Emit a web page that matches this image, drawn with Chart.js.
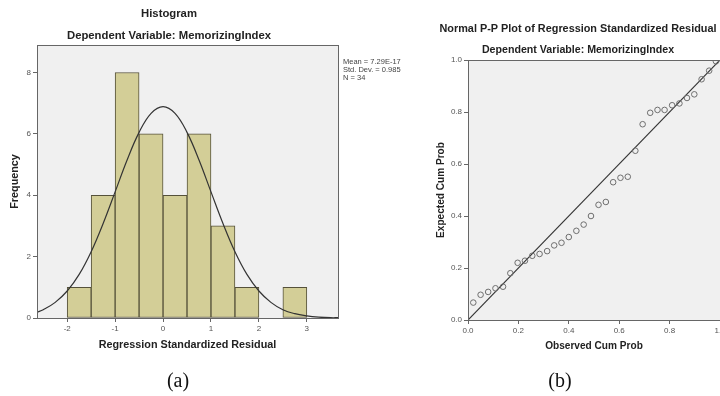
<!DOCTYPE html>
<html>
<head>
<meta charset="utf-8">
<script src="https://cdn.jsdelivr.net/npm/chart.js@4.4.1/dist/chart.umd.min.js"></script>
<style>
  html, body { margin: 0; padding: 0; width: 720px; height: 396px; overflow: hidden; background: #fff; }
  .box { position: absolute; top: 0; }
  .cap { position: absolute; width: 60px; text-align: center; font-family: "Liberation Serif", "Times New Roman", serif; font-size: 20px; line-height: 20px; color: #111; }
  .stats { position: absolute; left: 343px; top: 58px; font-family: "Liberation Sans", Arial, sans-serif; font-size: 7.5px; line-height: 8px; color: #444; white-space: nowrap; }
</style>
</head>
<body>
<div class="box" style="left:0px"><canvas id="histChart" width="450" height="396"></canvas></div>
<div class="box" style="left:433px"><canvas id="ppChart" width="292" height="396"></canvas></div>
<div class="stats">Mean = 7.29E-17<br>Std. Dev. = 0.985<br>N = 34</div>
<div class="cap" style="left:148px; top:370px">(a)</div>
<div class="cap" style="left:530px; top:370px">(b)</div>

<script>
// histogram (a)
const binCenters = [-1.75, -1.25, -0.75, -0.25, 0.25, 0.75, 1.25, 1.75, 2.25, 2.75];
const frequencies = [1, 4, 8, 6, 4, 6, 3, 1, 0, 1];
const curveX = [-2.63, -2.5, -2.25, -2, -1.75, -1.5, -1.25, -1, -0.75, -0.5, -0.25, 0, 0.25, 0.5, 0.75, 1, 1.25, 1.5, 1.75, 2, 2.25, 2.5, 2.75, 3, 3.25, 3.5, 3.65];
const curveY = [0.19, 0.27, 0.51, 0.88, 1.42, 2.16, 3.08, 4.11, 5.15, 6.05, 6.67, 6.89, 6.67, 6.05, 5.15, 4.11, 3.08, 2.16, 1.42, 0.88, 0.51, 0.27, 0.14, 0.07, 0.03, 0.01, 0.01];
const histXTicks = [-2, -1, 0, 1, 2, 3];
const histYTicks = [0, 2, 4, 6, 8];

// P-P plot (b)
const observedCumProb = [0.021, 0.05, 0.08, 0.109, 0.139, 0.168, 0.197, 0.226, 0.255, 0.284, 0.314, 0.342, 0.371, 0.4, 0.43, 0.459, 0.488, 0.518, 0.547, 0.576, 0.605, 0.634, 0.664, 0.693, 0.723, 0.752, 0.78, 0.81, 0.839, 0.869, 0.898, 0.927, 0.957, 0.984];
const expectedCumProb = [0.067, 0.097, 0.108, 0.122, 0.128, 0.18, 0.22, 0.228, 0.247, 0.254, 0.265, 0.287, 0.297, 0.319, 0.343, 0.367, 0.4, 0.443, 0.454, 0.53, 0.547, 0.551, 0.651, 0.753, 0.797, 0.808, 0.808, 0.826, 0.833, 0.854, 0.868, 0.926, 0.959, 0.995];
const refLineX = [0, 1];
const refLineY = [0, 1];
const ppTicks = [0, 0.2, 0.4, 0.6, 0.8, 1.0];

const SANS = '"Liberation Sans", Arial, sans-serif';
const tickFont = { family: SANS, size: 8 };
const tickColor = '#555';
const frameColor = '#666';

// grey plot background + frame like SPSS
const plotFrame = {
    id: 'plotFrame',
    beforeDraw(chart) {
        const a = chart.chartArea;
        const ctx = chart.ctx;
        ctx.save();
        ctx.fillStyle = '#f0f0f0';
        ctx.fillRect(a.left, a.top, a.right - a.left, a.bottom - a.top);
        ctx.restore();
    },
    afterDraw(chart) {
        const a = chart.chartArea;
        const ctx = chart.ctx;
        ctx.save();
        ctx.strokeStyle = frameColor;
        ctx.lineWidth = 1;
        ctx.strokeRect(Math.round(a.left) + 0.5, Math.round(a.top) + 0.5, Math.round(a.right - a.left), Math.round(a.bottom - a.top));
        ctx.restore();
    }
};

function axisGrid() {
    return { display: true, offset: false, drawOnChartArea: false, drawTicks: true, tickLength: 4, color: frameColor };
}

function fixWidth(w) {
    return scale => { scale.width = w; scale.paddingTop = 0; scale.paddingBottom = 0; };
}
function fixHeight(h) {
    return scale => { scale.height = h; scale.paddingLeft = 0; scale.paddingRight = 0; };
}
function setTicks(values) {
    return scale => { scale.ticks = values.map(v => ({ value: v })); };
}

new Chart(document.getElementById('histChart'), {
    type: 'bar',
    plugins: [plotFrame],
    data: {
        datasets: [{
            type: 'line',
            data: curveX.map((x, i) => ({ x: x, y: curveY[i] })),
            borderColor: '#333',
            borderWidth: 1.2,
            pointRadius: 0,
            tension: 0.4,
            fill: false,
            order: 1
        }, {
            type: 'bar',
            data: binCenters.map((x, i) => ({ x: x, y: frequencies[i] })),
            backgroundColor: '#d3ce97',
            borderColor: '#55513a',
            borderWidth: 1,
            borderSkipped: false,
            barPercentage: 1,
            categoryPercentage: 1,
            order: 2
        }]
    },
    options: {
        responsive: false,
        animation: false,
        layout: { padding: { left: 0, right: 112, top: 0, bottom: 44.5 } },
        plugins: {
            legend: { display: false },
            tooltip: { enabled: false },
            title: {
                display: true,
                text: 'Histogram',
                color: '#222',
                font: { family: SANS, size: 11.3, weight: 'bold' },
                padding: { top: 7.2, bottom: 4 }
            },
            subtitle: {
                display: true,
                text: 'Dependent Variable: MemorizingIndex',
                color: '#222',
                font: { family: SANS, size: 11.3, weight: 'bold' },
                padding: { top: 4.4, bottom: 2.2 }
            }
        },
        scales: {
            x: {
                type: 'linear',
                min: -2.63,
                max: 3.65,
                offset: false,
                afterFit: fixHeight(33.5),
                afterBuildTicks: setTicks(histXTicks),
                grid: axisGrid(),
                border: { display: false },
                ticks: { font: tickFont, color: tickColor, padding: 2, maxRotation: 0 },
                title: {
                    display: true,
                    text: 'Regression Standardized Residual',
                    color: '#222',
                    font: { family: SANS, size: 10.8, weight: 'bold' },
                    padding: { top: 0, bottom: 0 }
                }
            },
            y: {
                min: 0,
                max: 8.9,
                afterFit: fixWidth(37),
                afterBuildTicks: setTicks(histYTicks),
                grid: axisGrid(),
                border: { display: false },
                ticks: { font: tickFont, color: tickColor, padding: 2 },
                title: {
                    display: true,
                    text: 'Frequency',
                    color: '#222',
                    font: { family: SANS, size: 10.8, weight: 'bold' },
                    padding: { top: 8.5, bottom: 0 }
                }
            }
        }
    }
});

new Chart(document.getElementById('ppChart'), {
    type: 'scatter',
    plugins: [plotFrame],
    data: {
        datasets: [{
            type: 'line',
            data: refLineX.map((x, i) => ({ x: x, y: refLineY[i] })),
            borderColor: '#333',
            borderWidth: 1.2,
            pointRadius: 0,
            fill: false,
            order: 2
        }, {
            data: observedCumProb.map((x, i) => ({ x: x, y: expectedCumProb[i] })),
            pointStyle: 'circle',
            pointRadius: 2.8,
            borderColor: '#6f6f6f',
            backgroundColor: 'rgba(0,0,0,0)',
            borderWidth: 1,
            order: 1
        }]
    },
    options: {
        responsive: false,
        animation: false,
        layout: { padding: { left: 0, right: 2, top: 0, bottom: 44.2 } },
        plugins: {
            legend: { display: false },
            tooltip: { enabled: false },
            title: {
                display: true,
                text: 'Normal P-P Plot of Regression Standardized Residual',
                color: '#222',
                font: { family: SANS, size: 10.86, weight: 'bold' },
                padding: { top: 22.5, bottom: 4 }
            },
            subtitle: {
                display: true,
                text: 'Dependent Variable: MemorizingIndex',
                color: '#222',
                font: { family: SANS, size: 10.65, weight: 'bold' },
                padding: { top: 4.1, bottom: 3.6 }
            }
        },
        scales: {
            x: {
                type: 'linear',
                min: 0,
                max: 1,
                afterFit: fixHeight(31.8),
                afterBuildTicks: setTicks(ppTicks),
                grid: axisGrid(),
                border: { display: false },
                ticks: { font: tickFont, color: tickColor, padding: 2, maxRotation: 0, callback: v => v.toFixed(1) },
                title: {
                    display: true,
                    text: 'Observed Cum Prob',
                    color: '#222',
                    font: { family: SANS, size: 10.1, weight: 'bold' },
                    padding: { top: 0, bottom: 0 }
                }
            },
            y: {
                min: 0,
                max: 1,
                afterFit: fixWidth(35),
                afterBuildTicks: setTicks(ppTicks),
                grid: axisGrid(),
                border: { display: false },
                ticks: { font: tickFont, color: tickColor, padding: 2, callback: v => v.toFixed(1) },
                title: {
                    display: true,
                    text: 'Expected Cum Prob',
                    color: '#222',
                    font: { family: SANS, size: 10.1, weight: 'bold' },
                    padding: { top: 2.6, bottom: 0 }
                }
            }
        }
    }
});
</script>
</body>
</html>
